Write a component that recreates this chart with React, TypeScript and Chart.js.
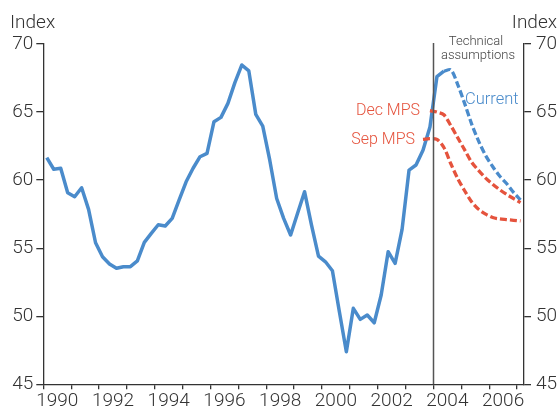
import React, { useEffect, useRef } from "react";
import { Chart, registerables } from "chart.js";

Chart.register(...registerables);

// Quarterly index, 1990Q1 .. 2004Q2 (history)
const historyStart = 1990.125; // mid-point of 1990Q1
const historyValues = [
  61.65, 60.8, 60.87, 59.07, 58.78, 59.44, 57.85, 55.4, 54.37, 53.84,
  53.52, 53.64, 53.64, 54.06, 55.43, 56.09, 56.72, 56.63, 57.19, 58.54,
  59.88, 60.87, 61.72, 61.97, 64.29, 64.61, 65.64, 67.16, 68.46, 68.02,
  64.83, 63.97, 61.48, 58.65, 57.19, 55.97, 57.56, 59.15, 56.7, 54.42,
  54.0, 53.34, 50.33, 47.39, 50.58, 49.77, 50.09, 49.52, 51.56, 54.74,
  53.89, 56.38, 60.74, 61.11, 62.2, 63.9, 67.6, 68.0,
];

// Technical assumptions (quarterly)
const currentStart = 2004.375;
const currentValues = [68.0, 68.1, 67.0, 65.6, 64.1, 62.85, 61.8, 61.0, 60.3, 59.75, 59.1, 58.55];

const decStart = 2003.875;
const decValues = [65.1, 65.0, 64.8, 64.0, 63.1, 62.2, 61.3, 60.7, 60.15, 59.7, 59.3, 58.95, 58.65, 58.35];

const sepStart = 2003.625;
const sepValues = [63.0, 63.05, 63.0, 62.4, 61.2, 60.1, 59.2, 58.4, 57.85, 57.5, 57.25, 57.15, 57.1, 57.05, 57.0];

const yearMin = 1990;
const yearMax = 2007.25;
const yTicks = [45, 50, 55, 60, 65, 70];
const splitYear = 2004;

const BLUE = "#4a8bcb";
const RED = "#e5533d";
const AXIS = "#333333";
const FONT = "Roboto, 'Liberation Sans', sans-serif";
const WEIGHT = "300";

const toPoints = (start: number, vals: number[]) =>
  vals.map((v, i) => ({ x: start + i * 0.25, y: v }));

const annotations = {
  id: "annotations",
  afterDraw(chart: any) {
    const { ctx, chartArea, scales } = chart;
    const xs = scales.x;
    ctx.save();
    const vx = Math.round(xs.getPixelForValue(splitYear)) + 0.5;
    ctx.strokeStyle = "#555555";
    ctx.lineWidth = 1.5;
    ctx.beginPath();
    ctx.moveTo(vx, chartArea.top - 1);
    ctx.lineTo(vx, chartArea.bottom);
    ctx.stroke();

    ctx.textBaseline = "middle";
    ctx.fillStyle = AXIS;
    ctx.font = `${WEIGHT} 19px ${FONT}`;
    ctx.textAlign = "left";
    ctx.fillText("Index", 10, 23);
    ctx.textAlign = "right";
    ctx.fillText("Index", 557, 23);

    ctx.fillStyle = "#444444";
    ctx.font = `${WEIGHT} 13px ${FONT}`;
    ctx.textAlign = "center";
    ctx.fillText("Technical", 476, 42);
    ctx.fillText("assumptions", 478, 56);

    ctx.font = `${WEIGHT} 16.5px ${FONT}`;
    ctx.fillStyle = BLUE;
    ctx.textAlign = "left";
    ctx.fillText("Current", 465, 100);
    ctx.fillStyle = RED;
    ctx.font = `${WEIGHT} 16px ${FONT}`;
    ctx.textAlign = "right";
    ctx.fillText("Dec MPS", 420, 111);
    ctx.fillText("Sep MPS", 415, 140);
    ctx.restore();
  },
};

export default function App() {
  const ref = useRef<HTMLCanvasElement | null>(null);
  useEffect(() => {
    if (!ref.current) return;
    const lineBase = { borderWidth: 3.3, pointRadius: 0, fill: false, tension: 0, borderJoinStyle: "round" as const };
    const tickFont = { family: FONT, size: 19, weight: WEIGHT as any };
    const chart = new Chart(ref.current, {
      type: "line",
      data: {
        datasets: [
          { ...lineBase, label: "Sep MPS", data: toPoints(sepStart, sepValues), borderColor: RED, borderDash: [7, 3], tension: 0.3 },
          { ...lineBase, label: "Dec MPS", data: toPoints(decStart, decValues), borderColor: RED, borderDash: [7, 3], tension: 0.3 },
          { ...lineBase, label: "Current", data: toPoints(currentStart, currentValues), borderColor: BLUE, borderDash: [7, 3], tension: 0.3 },
          { ...lineBase, label: "Index", data: toPoints(historyStart, historyValues), borderColor: BLUE, borderWidth: 3.5 },
        ],
      },
      options: {
        animation: false,
        responsive: true,
        maintainAspectRatio: false,
        layout: { padding: { top: 44, left: 0, right: 0, bottom: 0 } },
        plugins: { legend: { display: false }, tooltip: { enabled: false } },
        scales: {
          x: {
            type: "linear",
            min: yearMin,
            max: yearMax,
            afterBuildTicks: (scale: any) => {
              const t = [];
              for (let v = 1990; v <= 2007; v += 0.5) t.push({ value: v });
              scale.ticks = t;
            },
            afterFit: (scale: any) => {
              scale.height = 411 - 384.3;
            },
            ticks: {
              autoSkip: false,
              maxRotation: 0,
              padding: 1,
              color: AXIS,
              font: tickFont,
              callback: (v: any) => (Number(v) % 2 === 0.5 ? String(Number(v) - 0.5) : ""),
            },
            grid: {
              drawOnChartArea: false,
              drawTicks: true,
              tickLength: 5,
              lineWidth: 1.3,
              color: (c: any) => (c.tick && Number(c.tick.value) % 1 === 0 ? AXIS : "rgba(0,0,0,0)"),
              tickColor: (c: any) => (c.tick && Number(c.tick.value) % 1 === 0 ? AXIS : "rgba(0,0,0,0)"),
            },
            border: { display: true, color: AXIS, width: 1.3 },
          },
          y: {
            type: "linear",
            position: "left",
            min: 45,
            max: 70,
            afterBuildTicks: (scale: any) => {
              scale.ticks = yTicks.map((v) => ({ value: v }));
            },
            afterFit: (scale: any) => {
              scale.width = 43.3;
            },
            ticks: { padding: 3, color: AXIS, font: tickFont },
            grid: { drawOnChartArea: false, drawTicks: true, tickLength: 7, color: AXIS, lineWidth: 1.3 },
            border: { display: true, color: AXIS, width: 1.3 },
          },
          y2: {
            type: "linear",
            position: "right",
            min: 45,
            max: 70,
            afterBuildTicks: (scale: any) => {
              scale.ticks = yTicks.map((v) => ({ value: v }));
            },
            afterFit: (scale: any) => {
              scale.width = 560 - 524;
            },
            ticks: { padding: 5, color: AXIS, font: tickFont },
            grid: { drawOnChartArea: false, drawTicks: true, tickLength: 7, color: AXIS, lineWidth: 1.3 },
            border: { display: true, color: AXIS, width: 1.3 },
          },
        },
      },
      plugins: [annotations],
    });
    return () => chart.destroy();
  }, []);

  return (
    <div style={{ position: "fixed", left: 0, top: 0, width: 560, height: 411, background: "#fff" }}>
      <canvas ref={ref} />
    </div>
  );
}
